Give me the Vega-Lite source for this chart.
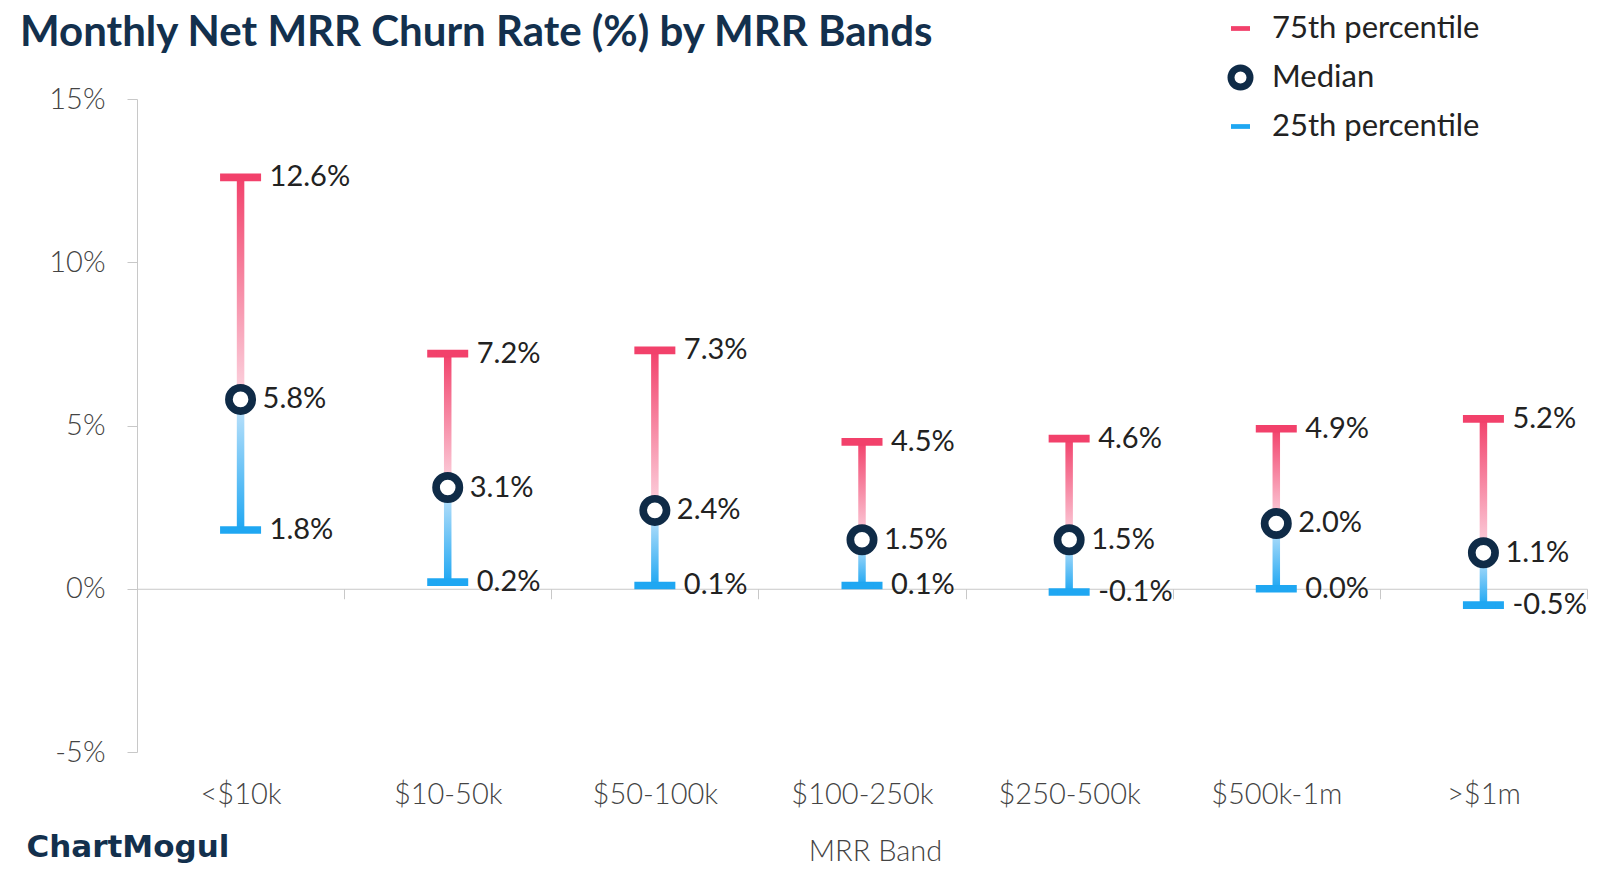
{
  "$schema": "https://vega.github.io/schema/vega-lite/v6.json",
  "width": 1450,
  "height": 653,
  "autosize": {"type": "none"},
  "padding": {"left": 137, "top": 99, "right": 13, "bottom": 134},
  "background": "white",
  "title": {
    "text": "Monthly Net MRR Churn Rate (%) by MRR Bands",
    "anchor": "start",
    "frame": "group",
    "dx": -117,
    "dy": 75,
    "baseline": "alphabetic",
    "offset": 0,
    "font": "Lato",
    "fontSize": 42,
    "fontWeight": "bold",
    "color": "#13304d"
  },
  "config": {
    "view": {"stroke": null},
    "font": "Lato"
  },
  "data": {
    "values": [
      {"band": "<$10k", "p25": 0.018, "median": 0.058, "p75": 0.126},
      {"band": "$10-50k", "p25": 0.002, "median": 0.031, "p75": 0.072},
      {"band": "$50-100k", "p25": 0.001, "median": 0.024, "p75": 0.073},
      {"band": "$100-250k", "p25": 0.001, "median": 0.015, "p75": 0.045},
      {"band": "$250-500k", "p25": -0.001, "median": 0.015, "p75": 0.046},
      {"band": "$500k-1m", "p25": 0.0, "median": 0.02, "p75": 0.049},
      {"band": ">$1m", "p25": -0.005, "median": 0.011, "p75": 0.052}
    ]
  },
  "encoding": {
    "x": {
      "field": "band",
      "type": "nominal",
      "sort": null,
      "scale": {"type": "band", "paddingInner": 0, "paddingOuter": 0},
      "axis": {
        "title": "MRR Band",
        "orient": "bottom",
        "offset": -163.25,
        "tickBand": "extent",
        "domainColor": "#c8c8c8",
        "tickColor": "#c8c8c8",
        "tickSize": 10,
        "labelAngle": 0,
        "labelBaseline": "middle",
        "labelPadding": 196,
        "labelFont": "Lato",
        "labelFontSize": 29,
        "labelFontWeight": 300,
        "labelColor": "#444444",
        "titleFont": "Lato",
        "titleFontSize": 29,
        "titleFontWeight": 300,
        "titleColor": "#444444",
        "titlePadding": 49,
        "titleX": 738
      }
    }
  },
  "layer": [
    {
      "mark": {
        "type": "bar",
        "width": 7.5,
        "color": {
          "gradient": "linear",
          "x1": 0, "y1": 0, "x2": 0, "y2": 1,
          "stops": [
            {"offset": 0, "color": "#f2416b"},
            {"offset": 1, "color": "#fcd6e1"}
          ]
        }
      },
      "encoding": {
        "y": {
          "field": "median",
          "type": "quantitative",
          "scale": {"domain": [-0.05, 0.15], "nice": false},
          "axis": {
            "title": "ChartMogul",
            "format": ".0%",
            "labelExpr": "replace(datum.label, '−', '-')",
            "values": [-0.05, 0, 0.05, 0.1, 0.15],
            "grid": false,
            "domainColor": "#c8c8c8",
            "tickColor": "#c8c8c8",
            "tickSize": 10,
            "labelPadding": 22,
            "labelFont": "Lato",
            "labelFontSize": 29,
            "labelFontWeight": 300,
            "labelColor": "#444444",
            "titleAngle": 0,
            "titleX": -111,
            "titleY": 757,
            "titleAlign": "left",
            "titleBaseline": "alphabetic",
            "titleFont": "DejaVu Sans",
            "titleFontSize": 31,
            "titleFontWeight": "bold",
            "titleColor": "#13304d"
          }
        },
        "y2": {"field": "p75"}
      }
    },
    {
      "mark": {
        "type": "bar",
        "width": 7.5,
        "color": {
          "gradient": "linear",
          "x1": 0, "y1": 0, "x2": 0, "y2": 1,
          "stops": [
            {"offset": 0, "color": "#c6e5fb"},
            {"offset": 1, "color": "#1fa7f2"}
          ]
        }
      },
      "encoding": {
        "y": {"field": "p25", "type": "quantitative"},
        "y2": {"field": "median"}
      }
    },
    {
      "transform": [{"fold": ["p75", "p25"], "as": ["stat", "value"]}],
      "mark": {"type": "tick", "orient": "horizontal", "thickness": 7.7, "size": 41, "opacity": 1},
      "encoding": {
        "y": {"field": "value", "type": "quantitative"},
        "color": {
          "field": "stat",
          "type": "nominal",
          "scale": {"domain": ["p75", "p25"], "range": ["#f2416b", "#1fa7f2"]},
          "legend": null
        }
      }
    },
    {
      "transform": [{"fold": ["p75", "median", "p25"], "as": ["stat", "value"]}],
      "mark": {"type": "point", "filled": true, "size": 543, "strokeWidth": 7.7, "opacity": 1},
      "encoding": {
        "y": {"field": "value", "type": "quantitative"},
        "shape": {
          "field": "stat",
          "type": "nominal",
          "scale": {"domain": ["p75", "median", "p25"], "range": ["M-1,-0.25H1V0.25H-1Z", "circle", "M-1,-0.25H1V0.25H-1Z"]},
          "legend": {
            "title": null,
            "orient": "none",
            "legendX": 1088,
            "legendY": -86,
            "padding": 0,
            "symbolSize": 361,
            "symbolStrokeWidth": 7,
            "labelOffset": 16,
            "rowPadding": 9,
            "labelFont": "Lato",
            "labelFontSize": 31,
            "labelColor": "#222222",
            "labelLimit": 400,
            "labelExpr": "datum.value == 'p75' ? '75th percentile' : datum.value == 'median' ? 'Median' : '25th percentile'"
          }
        },
        "fill": {
          "field": "stat",
          "type": "nominal",
          "scale": {"domain": ["p75", "median", "p25"], "range": ["#f2416b", "#ffffff", "#1fa7f2"]},
          "legend": {
            "title": null,
            "orient": "none",
            "legendX": 1088,
            "legendY": -86,
            "padding": 0,
            "symbolSize": 361,
            "symbolStrokeWidth": 7,
            "labelOffset": 16,
            "rowPadding": 9,
            "labelFont": "Lato",
            "labelFontSize": 31,
            "labelColor": "#222222",
            "labelLimit": 400,
            "labelExpr": "datum.value == 'p75' ? '75th percentile' : datum.value == 'median' ? 'Median' : '25th percentile'"
          }
        },
        "stroke": {
          "field": "stat",
          "type": "nominal",
          "scale": {"domain": ["p75", "median", "p25"], "range": ["transparent", "#0f2b47", "transparent"]},
          "legend": {
            "title": null,
            "orient": "none",
            "legendX": 1088,
            "legendY": -86,
            "padding": 0,
            "symbolSize": 361,
            "symbolStrokeWidth": 7,
            "labelOffset": 16,
            "rowPadding": 9,
            "labelFont": "Lato",
            "labelFontSize": 31,
            "labelColor": "#222222",
            "labelLimit": 400,
            "labelExpr": "datum.value == 'p75' ? '75th percentile' : datum.value == 'median' ? 'Median' : '25th percentile'"
          }
        }
      }
    },
    {
      "transform": [{"fold": ["p75", "p25"], "as": ["stat", "value"]}],
      "mark": {
        "type": "text", "align": "left", "baseline": "middle", "dx": 29,
        "fontSize": 29, "font": "Lato", "color": "#222222",
        "text": {"expr": "replace(format(datum.value, '.1%'), '−', '-')"}
      },
      "encoding": {
        "y": {"field": "value", "type": "quantitative"}
      }
    },
    {
      "mark": {
        "type": "text", "align": "left", "baseline": "middle", "dx": 22,
        "fontSize": 29, "font": "Lato", "color": "#222222",
        "text": {"expr": "replace(format(datum.median, '.1%'), '−', '-')"}
      },
      "encoding": {
        "y": {"field": "median", "type": "quantitative"}
      }
    }
  ]
}
